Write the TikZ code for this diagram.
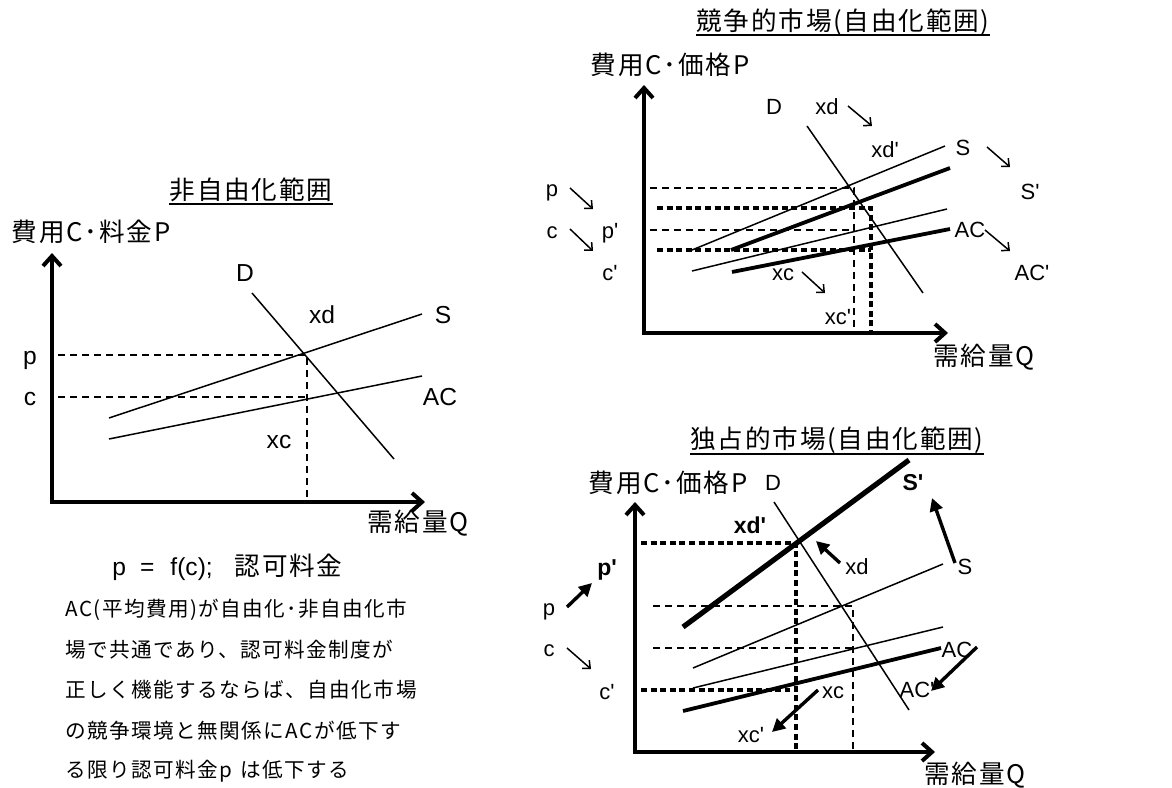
\documentclass[tikz,border=0pt]{standalone}
\usepackage{fontspec}
\setmainfont{Liberation Sans}
\newfontfamily\jp[LetterSpace=7]{Noto Sans CJK JP}
\usetikzlibrary{arrows.meta,calc}
\newcommand\pq{\textquotesingle}
\begin{document}
\begin{tikzpicture}[x=0.5pt,y=-0.5pt,
  lab/.style={font=\fontsize{11}{13}\selectfont, inner sep=0pt},
  llab/.style={font=\fontsize{12.3}{14}\selectfont, inner sep=0pt},
  blab/.style={font=\fontsize{11.5}{13}\selectfont\bfseries, inner sep=0pt},
  jlab/.style={font=\jp\fontsize{12.8}{14}\selectfont, inner sep=0pt},
  body/.style={font=\jp\fontsize{10.3}{12}\selectfont, inner sep=0pt, anchor=west},
  axis/.style={line width=2pt, line join=miter, {Straight Barb[length=5pt,width=9pt]}-{Straight Barb[length=5pt,width=9pt]}},
  thin/.style={line width=0.75pt},
  mid/.style={line width=1.9pt},
  heavy/.style={line width=2.6pt},
  dsh/.style={line width=0.75pt, dash pattern=on 3.5pt off 2.5pt},
  tdsh/.style={line width=1.7pt, dash pattern=on 3pt off 1.8pt},
  tarr/.style={line width=0.75pt, -{Straight Barb[length=3pt,width=5.5pt]}},
  barr/.style={line width=1.7pt, -{Triangle[length=6.5pt,width=6.5pt]}},
  uline/.style={line width=1pt}
]
\useasboundingbox (0,0) rectangle (1172,787);

% ================= left panel =================
\node[jlab] (t1) at (251,190) {非自由化範囲};
\coordinate (u1) at (0,204);
\draw[uline] (t1.west |- u1) -- (t1.east |- u1);
\node[jlab] (ly1) at (91,232) {費用C･料金P};
\draw[axis] (52,253) -- (52,502) -- (425,502);
\node[jlab] (lx1) at (418,523) {需給量Q};
\draw[dsh] (58,355) -- (307,355) -- (307,502);
\draw[dsh] (58,397) -- (307,397);
\draw[thin] (252,293) -- (394,459);
\draw[thin] (109,418) -- (422,314);
\draw[thin] (109,439) -- (422,376);
\node[llab] (lD) at (245,273) {D};
\node[llab] (lxd) at (322,315) {xd};
\node[llab] (lS) at (443,315) {S};
\node[llab] (lAC) at (440,397) {AC};
\node[llab] (lp) at (30,360) {p};
\node[llab] (lc) at (30,399) {c};
\node[llab] (lxc) at (279,442) {xc};

\node[llab, anchor=west] (fml) at (112,567) {p\hspace{7pt}=\hspace{8pt}f(c);\hspace{11pt}{\jp\fontsize{12.8}{14}\selectfont 認可料金}};
\node[body] (b1) at (65,610) {AC(平均費用)が自由化･非自由化市};
\node[body] (b2) at (65,650) {場で共通であり、認可料金制度が};
\node[body] (b3) at (65,690) {正しく機能するならば、自由化市場};
\node[body] (b4) at (65,731) {の競争環境と無関係にACが低下す};
\node[body] (b5) at (65,771) {る限り認可料金p\hspace{4pt}は低下する};

% ================= top right panel =================
\node[jlab] (t2) at (843,22) {競争的市場(自由化範囲)};
\coordinate (u2) at (0,35);
\draw[uline] (t2.west |- u2) -- (t2.east |- u2);
\node[jlab] (ly2) at (670,65) {費用C･価格P};
\draw[axis] (644,85) -- (644,333) -- (948,333);
\node[jlab] (lx2) at (984,357) {需給量Q};
\draw[dsh] (650,188) -- (854,188) -- (854,333);
\draw[dsh] (650,230) -- (854,230);
\draw[tdsh] (657,208) -- (871,208) -- (871,333);
\draw[tdsh] (657,250) -- (871,250);
\draw[thin] (807,126) -- (923,293);
\draw[thin] (692,250) -- (945,146);
\draw[mid] (731,250) -- (950,168);
\draw[thin] (692,271) -- (947,209);
\draw[mid] (732,272) -- (950,229);
\node[lab] (tD) at (774,107) {D};
\node[lab] (txd) at (827,107) {xd};
\node[lab] (txd2) at (885,150) {xd\pq};
\node[lab] (tS) at (963,148) {S};
\node[lab] (tS2) at (1030,192) {S\pq};
\node[lab] (tAC) at (970,230) {AC};
\node[lab] (tAC2) at (1032,273) {AC\pq};
\node[lab] (tp) at (552,193) {p};
\node[lab] (tc) at (552,233) {c};
\node[lab] (tp2) at (610,233) {p\pq};
\node[lab] (tc2) at (610,273) {c\pq};
\node[lab] (txc) at (783,275) {xc};
\node[lab] (txc2) at (838,317) {xc\pq};
\draw[tarr] (848,106) -- (872,126);
\draw[tarr] (987,147) -- (1010,167);
\draw[tarr] (985,230) -- (1010,251);
\draw[tarr] (570,188) -- (593,209);
\draw[tarr] (570,229) -- (593,251);
\draw[tarr] (802,272) -- (825,293);

% ================= bottom right panel =================
\node[jlab] (t3) at (837,440) {独占的市場(自由化範囲)};
\coordinate (u3) at (0,454);
\draw[uline] (t3.west |- u3) -- (t3.east |- u3);
\node[jlab] (ly3) at (668,483) {費用C･価格P};
\draw[axis] (635,502) -- (635,752) -- (935,752);
\node[jlab] (lx3) at (975,775) {需給量Q};
\draw[dsh] (653,606) -- (853,606) -- (853,752);
\draw[dsh] (653,648) -- (853,648);
\draw[tdsh] (641,543) -- (796,543) -- (796,752);
\draw[tdsh] (641,690) -- (790,690);
\draw[heavy] (683,627) -- (909,460);
\draw[thin] (774,502) -- (909,710);
\draw[thin] (693,668) -- (943,564);
\draw[thin] (693,688) -- (943,627);
\draw[mid] (683,711) -- (941,648);
\node[lab] (bD) at (773,483) {D};
\node[blab] (bS2) at (913,483) {S\pq};
\node[blab] (bxd2) at (750,525) {xd\pq};
\node[lab] (bxd) at (857,567) {xd};
\node[lab] (bS) at (965,567) {S};
\node[blab] (bp2) at (607,570) {p\pq};
\node[lab] (bp) at (549,612) {p};
\node[lab] (bc) at (549,651) {c};
\node[lab] (bc2) at (607,692) {c\pq};
\node[lab] (bAC) at (957,650) {AC};
\node[lab] (bAC2) at (917,690) {AC\pq};
\node[lab] (bxc) at (833,693) {xc};
\node[lab] (bxc2) at (751,735) {xc\pq};
\draw[barr] (840,563) -- (816,541);
\draw[barr] (955,563) -- (932,498);
\draw[barr] (567,607) -- (592,583);
\draw[tarr] (567,648) -- (591,669);
\draw[barr] (977,647) -- (931,691);
\draw[barr] (818,690) -- (772,732);
\end{tikzpicture}
\end{document}
